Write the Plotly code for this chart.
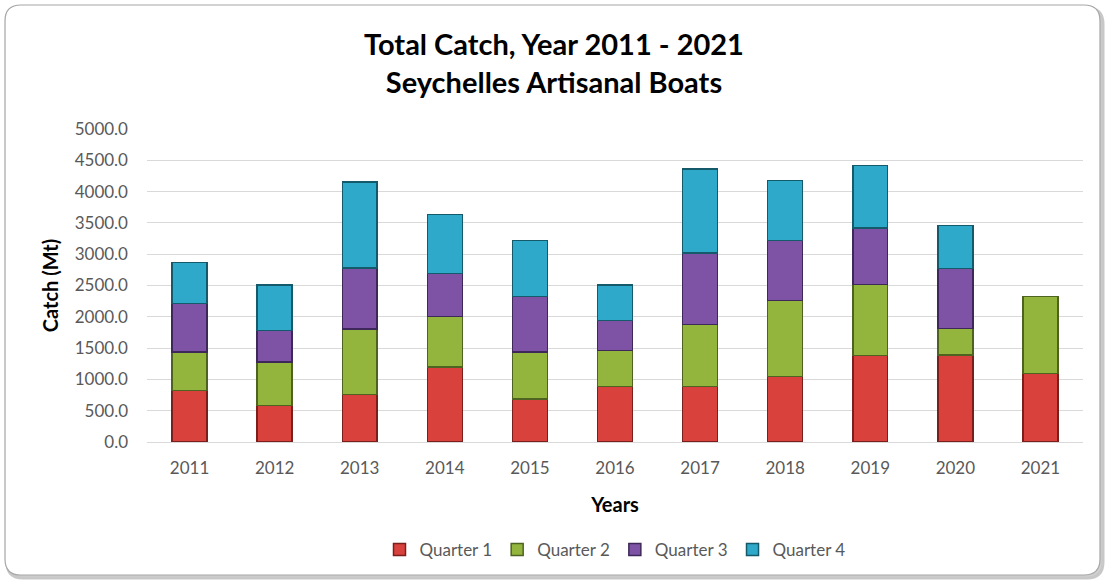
import plotly.graph_objects as go

# catch per quarter, metric tonnes
years = ["2011", "2012", "2013", "2014", "2015", "2016", "2017", "2018", "2019", "2020", "2021"]
quarter_1 = [824, 585, 755, 1198, 687, 888, 888, 1048, 1379, 1390, 1091]
quarter_2 = [614, 693, 1050, 808, 751, 575, 986, 1209, 1139, 420, 1235]
quarter_3 = [771, 500, 974, 683, 888, 475, 1145, 963, 901, 958, None]
quarter_4 = [660, 730, 1374, 947, 894, 570, 1342, 959, 995, 692, None]

series = [
    ("Quarter 1", quarter_1, "#D9413C", "#7A1F1C"),
    ("Quarter 2", quarter_2, "#93B53E", "#4E6320"),
    ("Quarter 3", quarter_3, "#7E53A6", "#3E2859"),
    ("Quarter 4", quarter_4, "#2FA9C9", "#145A6B"),
]

FONT = "Lato, 'Open Sans', sans-serif"

fig = go.Figure()
for name, vals, fill, edge in series:
    fig.add_trace(go.Bar(
        x=years, y=vals, name=name,
        marker=dict(color=fill, line=dict(color=edge, width=1.5)),
    ))

# plot area in pixels: x 147..1083, y 129..442
W, H = 1108, 580
ml, mr, mt, mb = 147, 25, 129, 138
pw, ph = W - ml - mr, H - mt - mb


def px_x(p):
    return (p - ml) / pw


def px_y(p):
    return (H - mb - p) / ph


def rounded(x0, y0, x1, y1, r):
    rx, ry = r / pw, r / ph
    a, b, c, d = px_x(x0), px_y(y0), px_x(x1), px_y(y1)
    return (f"M {a + rx},{b} L {c - rx},{b} Q {c},{b} {c},{b - ry} "
            f"L {c},{d + ry} Q {c},{d} {c - rx},{d} L {a + rx},{d} "
            f"Q {a},{d} {a},{d + ry} L {a},{b - ry} Q {a},{b} {a + rx},{b} Z")


# frame with a soft shadow, like the office chart border
fig.add_shape(type="path", xref="paper", yref="paper", layer="below",
              path=rounded(7, 8, 1103, 578, 16),
              line=dict(color="#C8C8C8", width=3), fillcolor="#D0D0D0")
fig.add_shape(type="path", xref="paper", yref="paper", layer="below",
              path=rounded(5, 5, 1100, 575, 16),
              line=dict(color="#A6A6A6", width=1.2), fillcolor="white")

fig.update_layout(
    width=W, height=H,
    barmode="stack", bargap=0.59,
    margin=dict(l=ml, r=mr, t=mt, b=mb, autoexpand=False),
    paper_bgcolor="white", plot_bgcolor="white",
    font=dict(family=FONT, color="#595959"),
    title=dict(
        text="Total Catch, Year 2011 - 2021<br>Seychelles Artisanal Boats",
        x=0.5, xanchor="center", y=1 - 55 / H, yanchor="top",
        font=dict(family=FONT, size=29, color="black", weight="bold"),
    ),
    xaxis=dict(
        title=dict(text="Years", font=dict(size=20, color="black", weight="bold"), standoff=20),
        tickfont=dict(size=17, color="#595959"),
        showline=True, linecolor="#D9D9D9", linewidth=1,
        ticks="", showgrid=False, automargin=False, ticklabelstandoff=11,
    ),
    yaxis=dict(
        title=dict(text="Catch (Mt)", font=dict(size=20, color="black", weight="bold"), standoff=10),
        range=[0, 5000], dtick=500, tickformat=".1f",
        tickfont=dict(size=17, color="#595959"),
        showgrid=True, gridcolor="#D9D9D9", gridwidth=1.3,
        zeroline=False, ticks="", automargin=False, ticklabelstandoff=18,
    ),
    legend=dict(
        orientation="h", x=0.5, xanchor="center",
        yref="container", y=(H - 550) / H, yanchor="middle",
        font=dict(size=17, color="#595959"), traceorder="normal",
        bgcolor="rgba(0,0,0,0)", itemwidth=30,
    ),
)

# the page's default body margin would shift the chart by 8px
fig.write_html("out.html", config={"displayModeBar": False},
               post_script="document.body.style.margin='0';")
